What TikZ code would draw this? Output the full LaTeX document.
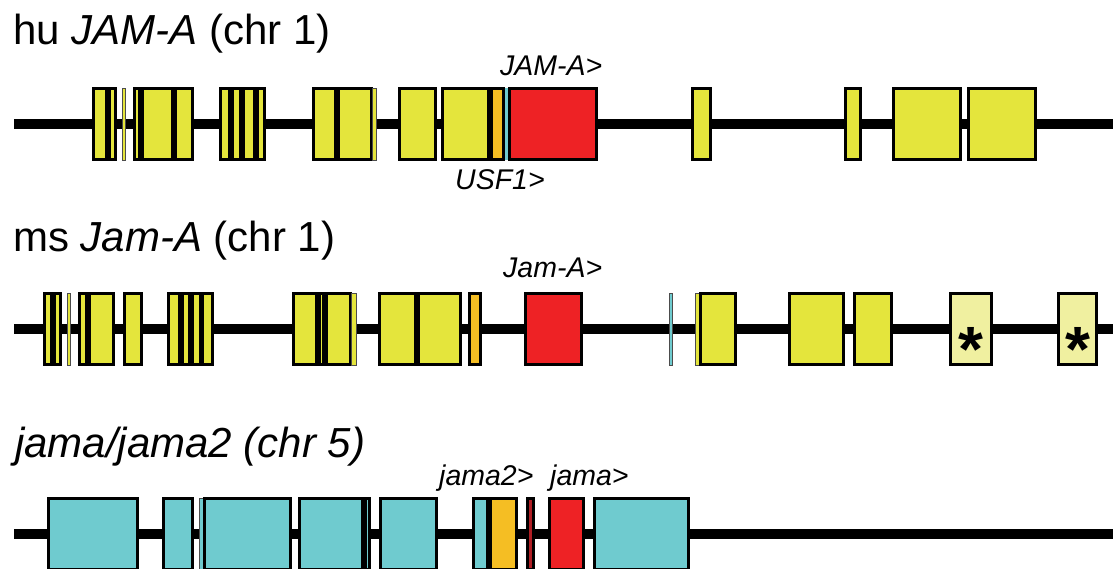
\documentclass[tikz,border=0pt]{standalone}
\usepackage{fontspec}
\setmainfont{Liberation Sans}
\definecolor{yel}{RGB}{228,229,60}
\definecolor{org}{RGB}{245,190,35}
\definecolor{redc}{RGB}{238,34,37}
\definecolor{cyn}{RGB}{111,203,207}
\definecolor{dred}{RGB}{176,30,36}
\definecolor{pale}{RGB}{240,240,160}
\tikzset{
  backbone/.style={line width=10pt, black},
  boxline/.style={line width=2.6pt, draw=black},
  thinline/.style={line width=0.9pt, draw=black!70},
  title/.style={anchor=base west, inner sep=0pt, font=\fontsize{42}{48}\selectfont},
  glabel/.style={anchor=base west, inner sep=0pt, font=\fontsize{28.5}{34}\selectfont\itshape},
  star/.style={anchor=base, inner sep=0pt, font=\fontsize{64}{70}\selectfont\bfseries}
}
% fill, x1, x2, top
\newcommand{\gbox}[4]{\filldraw[boxline,fill=#1] ({#2+1.3},{#4+1.3}) rectangle ({#3-1.3},{#4+72.7});}
\newcommand{\gthin}[4]{\filldraw[thinline,fill=#1] ({#2+0.5},{#4+1}) rectangle ({#3-0.5},{#4+73});}
\begin{document}
\begin{tikzpicture}[x=1pt,y=-1pt]
\useasboundingbox (0,0) rectangle (1113,569);
\clip (0,0) rectangle (1113,569);
% ---------------- row 1: human JAM-A
\node[title] (t1) at (13,45) {hu \textit{JAM-A} (chr 1)};
\draw[backbone] (14,124) -- (1113,124);
\def\T{87}
\gbox{yel}{92}{108}{\T}\gbox{yel}{108}{117}{\T}
\gthin{yel}{122}{126}{\T}
\gbox{yel}{133}{141}{\T}\gbox{yel}{141}{174}{\T}\gbox{yel}{174}{194}{\T}
\gbox{yel}{219}{231}{\T}\gbox{yel}{231}{242}{\T}\gbox{yel}{242}{256}{\T}\gbox{yel}{256}{266}{\T}
\gbox{yel}{312}{337}{\T}\gbox{yel}{337}{373}{\T}
\gthin{yel}{372}{377}{\T}
\gbox{yel}{398}{437}{\T}
\gbox{yel}{441}{490}{\T}\gbox{org}{490}{505}{\T}
\fill[cyn] (505,{\T+1}) rectangle (508.5,{\T+73});
\gbox{redc}{508}{598}{\T}
\gbox{yel}{691}{712}{\T}
\gbox{yel}{844}{862}{\T}
\gbox{yel}{892}{962}{\T}\gbox{yel}{967}{1037}{\T}
\node[glabel] (l1) at (500,76) {JAM-A>};
\node[glabel] (l2) at (455,190) {USF1>};
% ---------------- row 2: mouse Jam-A
\node[title] (t2) at (13,252) {ms \textit{Jam-A} (chr 1)};
\draw[backbone] (14,329) -- (1113,329);
\def\T{292}
\gbox{yel}{43}{53}{\T}\gbox{yel}{53}{62}{\T}
\gthin{yel}{67}{71}{\T}
\gbox{yel}{78}{88}{\T}\gbox{yel}{88}{115}{\T}
\gbox{yel}{123}{143}{\T}
\gbox{yel}{167}{181}{\T}\gbox{yel}{181}{191}{\T}\gbox{yel}{191}{201.5}{\T}\gbox{yel}{201.5}{214}{\T}
\gbox{yel}{292}{318}{\T}\gbox{yel}{318}{325}{\T}\gbox{yel}{325}{352}{\T}
\gthin{yel}{351}{357}{\T}
\gbox{yel}{378}{417}{\T}\gbox{yel}{417}{462}{\T}
\gbox{org}{468}{482}{\T}
\gbox{redc}{524}{583}{\T}
\gthin{cyn}{669}{673}{\T}
\gthin{yel}{695}{700}{\T}
\gbox{yel}{699}{737}{\T}
\gbox{yel}{788}{845}{\T}\gbox{yel}{853}{893}{\T}
\gbox{pale}{949}{993}{\T}\gbox{pale}{1057}{1098}{\T}
\node[star] (s1) at (971,371) {*};
\node[star] (s2) at (1077.5,371) {*};
\node[glabel] (l3) at (503,277) {Jam-A>};
% ---------------- row 3: zebrafish jama/jama2
\node[title,font=\fontsize{42}{48}\selectfont\itshape] (t3) at (15,457) {jama/jama2 (chr 5)};
\draw[backbone] (14,534) -- (1113,534);
\def\T{497}
\gbox{cyn}{47}{139}{\T}
\gbox{cyn}{162}{194}{\T}
\gthin{cyn}{199}{204}{\T}
\gbox{cyn}{203}{292}{\T}
\gbox{cyn}{298}{364}{\T}\gbox{cyn}{364}{371}{\T}
\gbox{cyn}{379}{438}{\T}
\gbox{cyn}{472}{489}{\T}\gbox{org}{489}{518}{\T}
\gbox{dred}{526}{535}{\T}
\gbox{redc}{548}{585}{\T}
\gbox{cyn}{593}{690}{\T}
\node[glabel] (l4) at (439,485) {jama2>};
\node[glabel] (l5) at (550,485) {jama>};
\end{tikzpicture}
\end{document}
